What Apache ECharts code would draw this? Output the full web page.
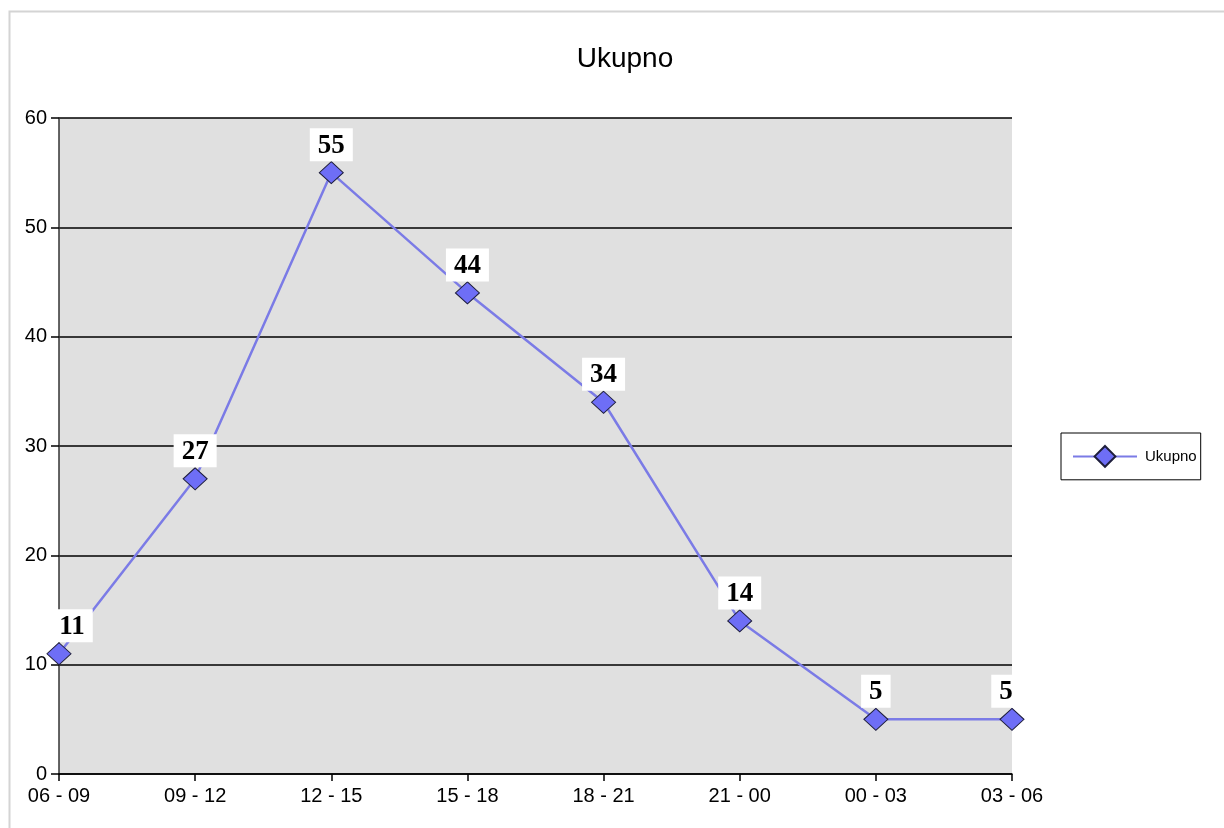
<!DOCTYPE html>
<html><head><meta charset="utf-8">
<script src="https://cdn.jsdelivr.net/npm/echarts@6/dist/echarts.min.js"></script>
<style>html,body{margin:0;padding:0;background:#fff}#c{width:1224px;height:828px}</style>
</head><body><div id="c"></div>
<script>
var categories = ['06 - 09','09 - 12','12 - 15','15 - 18','18 - 21','21 - 00','00 - 03','03 - 06'];
var values = [11, 27, 55, 44, 34, 14, 5, 5];
var seriesName = 'Ukupno';
var titleText = 'Ukupno';

var seriesData = values.map(function (v, i) {
  var d = {value: v};
  if (i === 0) d.label = {offset: [13, 0]};
  if (i === values.length - 1) d.label = {offset: [-6, 0]};
  return d;
});

var chart = echarts.init(document.getElementById('c'), null, {renderer:'canvas'});
chart.setOption({
  animation:false,
  backgroundColor:'#fff',
  graphic:[{type:'rect',shape:{x:9.5,y:11.5,width:1300,height:900},style:{fill:'none',stroke:'#d4d4d4',lineWidth:2},silent:true,z:-1}],
  title:{text:titleText,top:40,left:620,textAlign:'center',textStyle:{fontFamily:'Liberation Sans',fontWeight:'normal',fontSize:28,color:'#000'}},
  legend:{orient:'vertical',left:1061,top:433,padding:[12,4,12,11],borderColor:'#000',borderWidth:1,
    itemWidth:64,itemHeight:26,itemGap:0,
    textStyle:{fontFamily:'Liberation Sans',fontSize:15,color:'#000',padding:[0,0,0,3]},
    data:[{name:seriesName}]},
  grid:{left:59,top:118,right:212,bottom:54,show:true,backgroundColor:'#e0e0e0',borderWidth:0},
  xAxis:{type:'category',data:categories,boundaryGap:false,
    axisLine:{lineStyle:{color:'#000',width:1.5}},
    axisTick:{show:true,length:7,lineStyle:{color:'#000',width:1.5}},
    axisLabel:{fontFamily:'Liberation Sans',fontSize:20,color:'#000',margin:12},
    splitLine:{show:false}},
  yAxis:{type:'value',min:0,max:60,interval:10,
    axisLine:{show:true,lineStyle:{color:'#333',width:1.5}},
    axisTick:{show:true,length:8,lineStyle:{color:'#000',width:1.5}},
    axisLabel:{fontFamily:'Liberation Sans',fontSize:20,color:'#000',margin:12},
    splitLine:{show:true,lineStyle:{color:'#000',width:1.5}}},
  series:[{name:seriesName,type:'line',data:seriesData,
    symbol:'diamond',symbolSize:[24,22],
    itemStyle:{color:'#6e6ef6',borderColor:'#1e1e3c',borderWidth:1},
    lineStyle:{color:'#7b7be6',width:2.5},
    label:{show:true,position:'top',distance:0,fontFamily:'Liberation Serif',fontWeight:'bold',fontSize:27,color:'#000',
      backgroundColor:'#fff',padding:[4,8,2,8]}}]
});
</script></body></html>
